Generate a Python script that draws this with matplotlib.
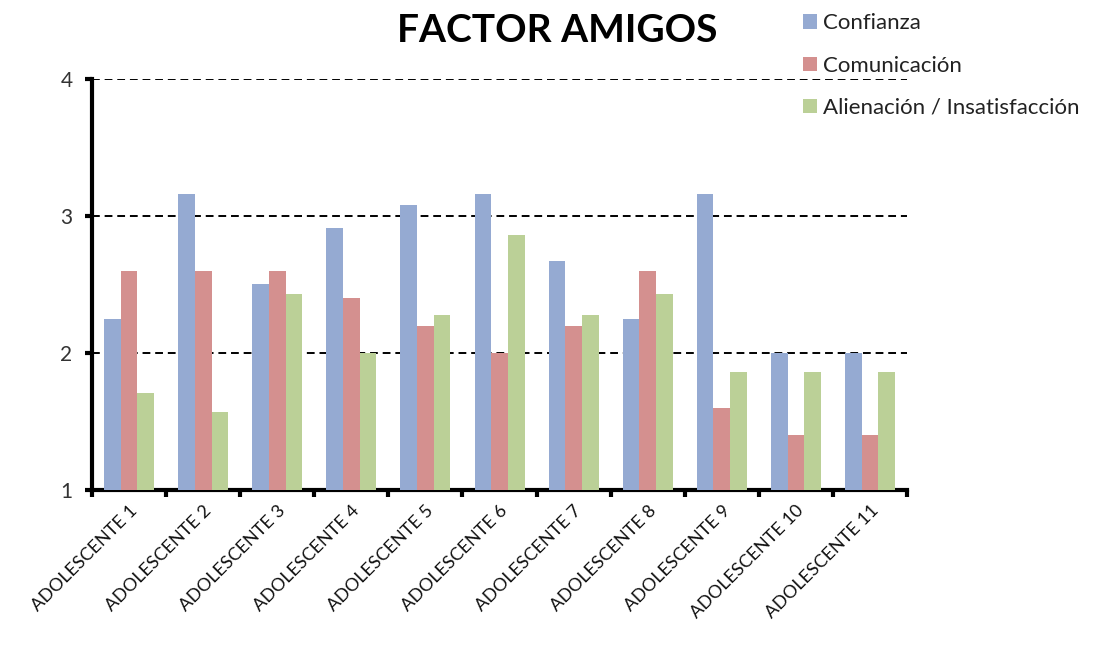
import matplotlib
matplotlib.use("Agg")
import matplotlib.pyplot as plt
import numpy as np
from matplotlib.patches import Patch

categories = [f"ADOLESCENTE {i}" for i in range(1, 12)]
confianza = [2.25, 3.16, 2.5, 2.91, 3.08, 3.16, 2.67, 2.25, 3.16, 2.0, 2.0]
comunicacion = [2.6, 2.6, 2.6, 2.4, 2.2, 2.0, 2.2, 2.6, 1.6, 1.4, 1.4]
alienacion = [1.71, 1.57, 2.43, 2.0, 2.28, 2.86, 2.28, 2.43, 1.86, 1.86, 1.86]
series_names = ["Confianza", "Comunicación", "Alienación / Insatisfacción"]
colors = ["#95AAD2", "#D4908F", "#BBD097"]

plt.rcParams['font.family'] = ['Lato', 'DejaVu Sans']

fig = plt.figure(figsize=(10.97, 6.55), dpi=100)
ax = fig.add_axes([0.0839, 0.2519, 0.8268 - 0.0839, 0.8794 - 0.2519])

x = np.arange(len(categories))
w = 0.225
for k, vals in enumerate([confianza, comunicacion, alienacion]):
    ax.bar(x + (k - 1) * w, np.array(vals) - 1, width=w, bottom=1,
           color=colors[k], zorder=3)

ax.set_xlim(-0.5, len(categories) - 0.5)
ax.set_ylim(1, 4)
ax.set_yticks([1, 2, 3, 4])
for yv in [2, 3, 4]:
    ax.axhline(yv, color="black", linestyle=(0, (4, 2.5)), linewidth=1.4, zorder=2)

ax.set_xticks(np.arange(len(categories) + 1) - 0.5, minor=False)
ax.set_xticklabels([])
ax.set_xticks(x, minor=True)
ax.set_xticklabels(categories, minor=True, rotation=45, ha="right",
                   rotation_mode="anchor", fontsize=13, color="#111111")
ax.tick_params(axis="x", which="minor", length=0, pad=9)
ax.tick_params(axis="x", which="major", length=5, width=3, direction="out")
ax.tick_params(axis="y", length=5, width=3, direction="out", labelsize=15,
               labelcolor="#333333", pad=9)

for s in ["top", "right"]:
    ax.spines[s].set_visible(False)
for s in ["left", "bottom"]:
    ax.spines[s].set_linewidth(3)

fig.text(0.508, 0.953, "FACTOR AMIGOS", ha="center", va="center",
         fontsize=28, fontweight="bold")

handles = [Patch(facecolor=c, edgecolor="none") for c in colors]
fig.legend(handles, series_names, loc="upper left", bbox_to_anchor=(0.72, 1.0),
           frameon=False, fontsize=16, handlelength=0.6, handleheight=0.6,
           handletextpad=0.3, labelspacing=1.0, borderaxespad=0.2,
           labelcolor="#222222")

fig.savefig("out.png", dpi=100)
